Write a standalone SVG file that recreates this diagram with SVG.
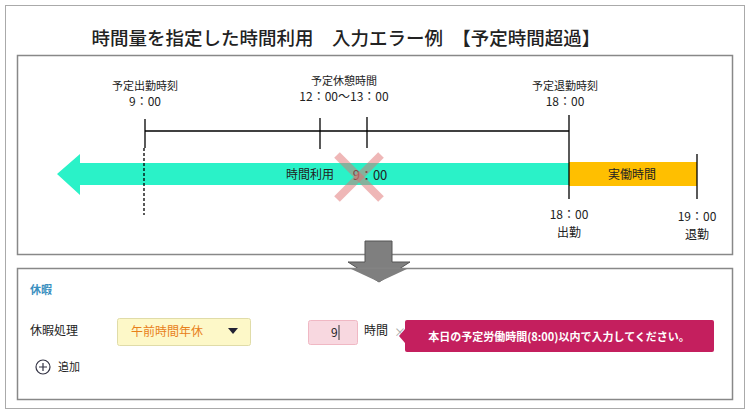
<svg xmlns="http://www.w3.org/2000/svg" width="751" height="414" viewBox="0 0 751 414">
<style>
text{font-family:"Noto Sans CJK JP","Liberation Sans",sans-serif;fill:#222}
.s{font-size:11px}
.m{font-size:12px}
.ln{stroke:#000;stroke-width:1.3;fill:none}
</style>
<rect width="751" height="414" fill="#fff"/>
<rect x="5.5" y="5.5" width="739" height="403" fill="none" stroke="#aaa"/>
<g id="title"><text x="346" y="45" text-anchor="middle" font-size="18.5" font-weight="500">時間量を指定した時間利用　入力エラー例　【予定時間超過】</text></g>
<g id="top-panel">
<rect x="17.5" y="55.5" width="715" height="199" fill="#fff" stroke="#888" stroke-width="1.5"/>
</g>
<g id="labels">
<text class="s" x="145" y="90" text-anchor="middle">予定出勤時刻</text>
<text class="m" x="145" y="106" text-anchor="middle">9：00</text>
<text class="s" x="344" y="85" text-anchor="middle">予定休憩時間</text>
<text class="m" x="344" y="101" text-anchor="middle">12：00～13：00</text>
<text class="s" x="565" y="90" text-anchor="middle">予定退勤時刻</text>
<text class="m" x="565" y="106" text-anchor="middle">18：00</text>
<text class="m" x="569" y="219" text-anchor="middle">18：00</text>
<text class="m" x="569" y="237" text-anchor="middle">出勤</text>
<text class="m" x="697" y="221" text-anchor="middle">19：00</text>
<text class="m" x="697" y="239" text-anchor="middle">退勤</text>
</g>
<g id="bars">
<polygon points="57,174 80,154 80,163 569,163 569,185 80,185 80,195" fill="#2AF2C8"/>
<rect x="569" y="162" width="128" height="24" fill="#FFBF00"/>
<text class="m" x="310" y="179" text-anchor="middle">時間利用</text>
<text x="370" y="180" text-anchor="middle" font-size="13">9：00</text>
<text class="m" x="632" y="179" text-anchor="middle">実働時間</text>
<g stroke="#E07070" stroke-opacity="0.5" stroke-width="8"><line x1="337" y1="155" x2="381" y2="199"/><line x1="381" y1="155" x2="337" y2="199"/></g>
</g>
<g id="connectors">
<line class="ln" x1="145" y1="131" x2="569" y2="131"/>
<line class="ln" x1="145" y1="119" x2="145" y2="148"/>
<line class="ln" x1="320" y1="118" x2="320" y2="149"/>
<line class="ln" x1="367" y1="117" x2="367" y2="148"/>
<line class="ln" x1="569" y1="115" x2="569" y2="199"/>
<line class="ln" x1="697" y1="154" x2="697" y2="199"/>
<line class="ln" x1="144" y1="148" x2="144" y2="215" stroke-dasharray="3,2"/>
<polygon points="365,241 392,241 392,262 410,262 379,282 348,262 365,262" fill="#7f7f7f" stroke="#555"/>
</g>
<g id="bottom-panel">
<rect x="17.5" y="268.5" width="715" height="131" fill="none" stroke="#888" stroke-width="1.5"/>
<polygon points="350,268.5 408,268.5 379,282" fill="#7f7f7f"/>
<text x="30" y="294" font-size="11" font-weight="bold" style="fill:#3a8fc0">休暇</text>
<text class="m" x="30" y="335">休暇処理</text>
<rect x="117.5" y="318.5" width="133" height="27" rx="2" fill="#fdf8c8" stroke="#e0dca8"/>
<text class="m" x="131" y="336" style="fill:#e8801a">午前時間年休</text>
<polygon points="228,328 238,328 233,334" fill="#223"/>
<rect x="308.5" y="320.5" width="49" height="24" rx="2" fill="#f8d8e0" stroke="#f0b8c4"/>
<text class="m" x="331" y="337">9</text>
<line x1="339" y1="325" x2="339" y2="340" stroke="#333"/>
<text class="m" x="364" y="335">時間</text>
<text x="394" y="337" font-size="12" style="fill:#aaa">×</text>
<rect x="405" y="320" width="309" height="32" rx="2" fill="#c41f5e"/>
<polygon points="405,329 399,336 405,343" fill="#c41f5e"/>
<text x="559" y="341" text-anchor="middle" font-size="11" font-weight="bold" style="fill:#fff">本日の予定労働時間(8:00)以内で入力してください。</text>
<circle cx="43" cy="367" r="7" fill="none" stroke="#334" stroke-width="1.2"/>
<path d="M39 367h8M43 363v8" stroke="#334" stroke-width="1.2"/>
<text class="s" x="58" y="371">追加</text>
</g>
</svg>
